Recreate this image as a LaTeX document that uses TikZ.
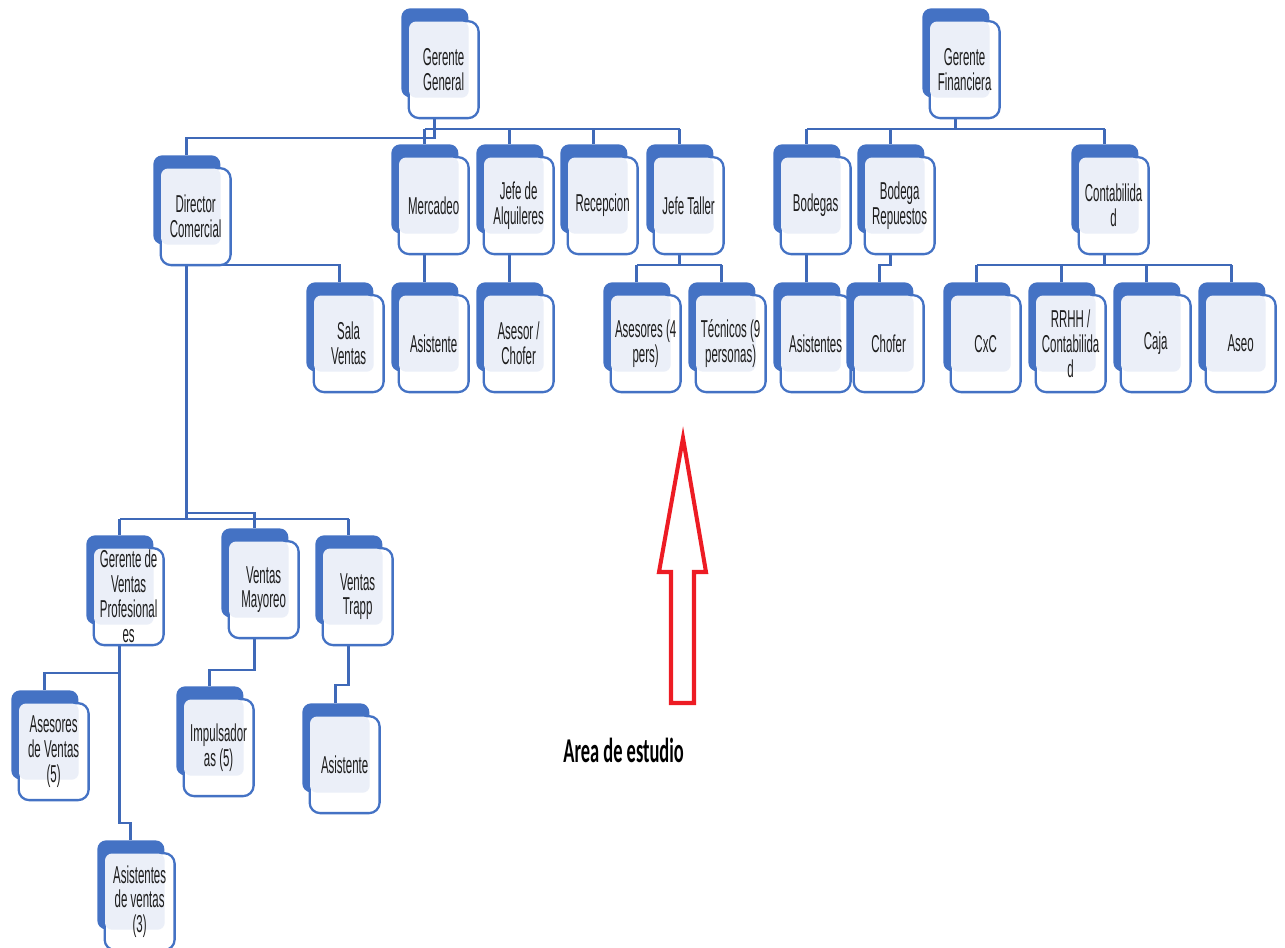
\documentclass[tikz,border=0pt]{standalone}
\usepackage{fontspec}
\usetikzlibrary{backgrounds}
\setmainfont{Liberation Sans}
\newfontfamily\boxfont[FakeStretch=0.47]{Liberation Sans}
\newfontfamily\notefont[FakeStretch=0.53]{Carlito}

\definecolor{orgblue}{HTML}{4472C4}
\definecolor{linkblue}{HTML}{3F69B8}
\definecolor{paleblue}{HTML}{EBEFF8}
\definecolor{markred}{HTML}{ED1C24}
\definecolor{boxink}{HTML}{1E1E1E}

\tikzset{
  backbox/.style={fill=orgblue, draw=none, rounded corners=5, inner sep=0pt,
    minimum width=1.34cm, minimum height=1.78cm, anchor=north west},
  frontbox/.style={fill=white, draw=orgblue, line width=1.3pt, rounded corners=6,
    inner sep=0pt, minimum width=1.40cm, minimum height=1.94cm, anchor=north west},
  innerfill/.style={fill=paleblue, rounded corners=4},
  boxtext/.style={font=\boxfont\fontsize{13.9}{14.2}\selectfont, align=center,
    text=boxink, inner sep=0pt},
  conn/.style={draw=linkblue, line width=1.6pt},
  bigarrow/.style={draw=markred, line width=2.3pt, line join=miter},
}

% one position box: blue tab behind, framed card in front, pale panel and label
\newcommand{\orgnode}[4]{%
  \node[backbox] (#1b) at (#2,#3) {};
  \node[frontbox] (#1) at ([shift={(6.5,12)}]#1b.north west) {};
  \fill[innerfill] ([shift={(1.5,1.5)}]#1.north west) rectangle (#1b.south east);
  \node[boxtext] (#1t) at (#1.center) {#4};
}

\begin{document}
\begin{tikzpicture}[x=0.02cm, y=-0.02cm]
\useasboundingbox (0,0) rectangle (1285,947);

% ---- position boxes ----
\orgnode{gg}{401}{8}{Gerente\\General}
\orgnode{gf}{922}{8}{Gerente\\Financiera}

\orgnode{dc}{153}{155}{Director\\Comercial}
\orgnode{mer}{391}{144}{Mercadeo}
\orgnode{alq}{476}{144}{Jefe de\\Alquileres}
\orgnode{rec}{560}{144}{Recepcion}
\orgnode{jt}{646}{144}{Jefe Taller}
\orgnode{bod}{773}{144}{Bodegas}
\orgnode{brep}{857}{144}{Bodega\\Repuestos}
\orgnode{cont}{1071}{144}{Contabilida\\d}

\orgnode{sala}{306}{282}{Sala\\Ventas}
\orgnode{asisA}{391}{282}{Asistente}
\orgnode{achof}{476}{282}{Asesor /\\Chofer}
\orgnode{ases}{603}{282}{Asesores (4\\pers)}
\orgnode{tec}{688}{282}{Técnicos (9\\personas)}
\orgnode{asisB}{773}{282}{Asistentes}
\orgnode{chof}{846}{282}{Chofer}
\orgnode{cxc}{943}{282}{CxC}
\orgnode{rrhh}{1028}{282}{RRHH /\\Contabilida\\d}
\orgnode{caja}{1113}{282}{Caja}
\orgnode{aseo}{1198}{282}{Aseo}

\orgnode{gvp}{86}{535}{Gerente de\\Ventas\\Profesional\\es}
\orgnode{vmay}{221}{528}{Ventas\\Mayoreo}
\orgnode{vtrapp}{315}{535}{Ventas\\Trapp}

\orgnode{asv}{11}{690}{Asesores\\de Ventas\\(5)}
\orgnode{imp}{176}{686}{Impulsador\\as (5)}
\orgnode{asisC}{302}{703}{Asistente}
\orgnode{asvt}{97}{840}{Asistentes\\de ventas\\(3)}

% levels of the horizontal connector bars
\coordinate (lvlGG) at (0,129);
\coordinate (lvlDCtop) at (0,138);
\coordinate (lvlSala) at (0,265);
\coordinate (lvlR3) at (0,265);
\coordinate (lvlDC) at (0,519);
\coordinate (lvlDCb) at (0,513);
\coordinate (lvlGVa) at (0,673);
\coordinate (lvlGVb) at (0,823);
\coordinate (lvlVM) at (0,670);
\coordinate (lvlVT) at (0,685);

% ---- connectors, kept behind the boxes ----
\begin{scope}[on background layer]
% Gerente General
\draw[conn] (ggb.center) -- (ggb.center |- lvlDCtop) -- (dcb.north |- lvlDCtop) -- (dcb.north);
\draw[conn] (merb.north |- lvlGG) -- (jtb.north |- lvlGG);
\foreach \c in {merb,alqb,recb,jtb}
  \draw[conn] (\c.north |- lvlGG) -- (\c.north);
% Director Comercial
\draw[conn] (dcb.center) -- (dcb.center |- lvlDC);
\draw[conn] (gvpb.north |- lvlDC) -- (vtrappb.north |- lvlDC);
\draw[conn] (gvpb.north |- lvlDC) -- (gvpb.north);
\draw[conn] (vtrappb.north |- lvlDC) -- (vtrappb.north);
\draw[conn] (dcb.center |- lvlDCb) -- (vmayb.north |- lvlDCb) -- (vmayb.north);
\draw[conn] (dcb.center |- lvlSala) -- (salab.north |- lvlSala) -- (salab.north);
% Mercadeo, Jefe de Alquileres
\draw[conn] (merb.center) -- (asisAb.north);
\draw[conn] (alqb.center) -- (achofb.north);
% Jefe Taller
\draw[conn] (jtb.center) -- (jtb.center |- lvlR3);
\draw[conn] (asesb.north |- lvlR3) -- (tecb.north |- lvlR3);
\foreach \c in {asesb,tecb}
  \draw[conn] (\c.north |- lvlR3) -- (\c.north);
% Gerente Financiera
\draw[conn] (gfb.center) -- (gfb.center |- lvlGG);
\draw[conn] (bodb.north |- lvlGG) -- (contb.north |- lvlGG);
\foreach \c in {bodb,brepb,contb}
  \draw[conn] (\c.north |- lvlGG) -- (\c.north);
\draw[conn] (bodb.center) -- (asisBb.north);
\draw[conn] (brepb.center) -- (brepb.center |- lvlR3) -- (chofb.north |- lvlR3) -- (chofb.north);
% Contabilidad
\draw[conn] (contb.center) -- (contb.center |- lvlR3);
\draw[conn] (cxcb.north |- lvlR3) -- (aseob.north |- lvlR3);
\foreach \c in {cxcb,rrhhb,cajab,aseob}
  \draw[conn] (\c.north |- lvlR3) -- (\c.north);
% Gerente de Ventas Profesionales
\draw[conn] (gvpb.center) -- (gvpb.center |- lvlGVb) -- (asvtb.north |- lvlGVb) -- (asvtb.north);
\draw[conn] (gvpb.center |- lvlGVa) -- (asvb.north |- lvlGVa) -- (asvb.north);
% Ventas Mayoreo, Ventas Trapp
\draw[conn] (vmayb.center) -- (vmayb.center |- lvlVM) -- (impb.north |- lvlVM) -- (impb.north);
\draw[conn] (vtrappb.center) -- (vtrappb.center |- lvlVT) -- (asisCb.north |- lvlVT) -- (asisCb.north);
\end{scope}

% ---- study-area marker ----
\draw[bigarrow] (683,438) -- (706,572) -- (694,572) -- (694,703) -- (671,703)
  -- (671,572) -- (659,572) -- cycle;
\node[anchor=base west, inner sep=0pt, font=\notefont\bfseries\fontsize{19.8}{22}\selectfont]
  (area) at (563,762) {Area de estudio};
\end{tikzpicture}
\end{document}
